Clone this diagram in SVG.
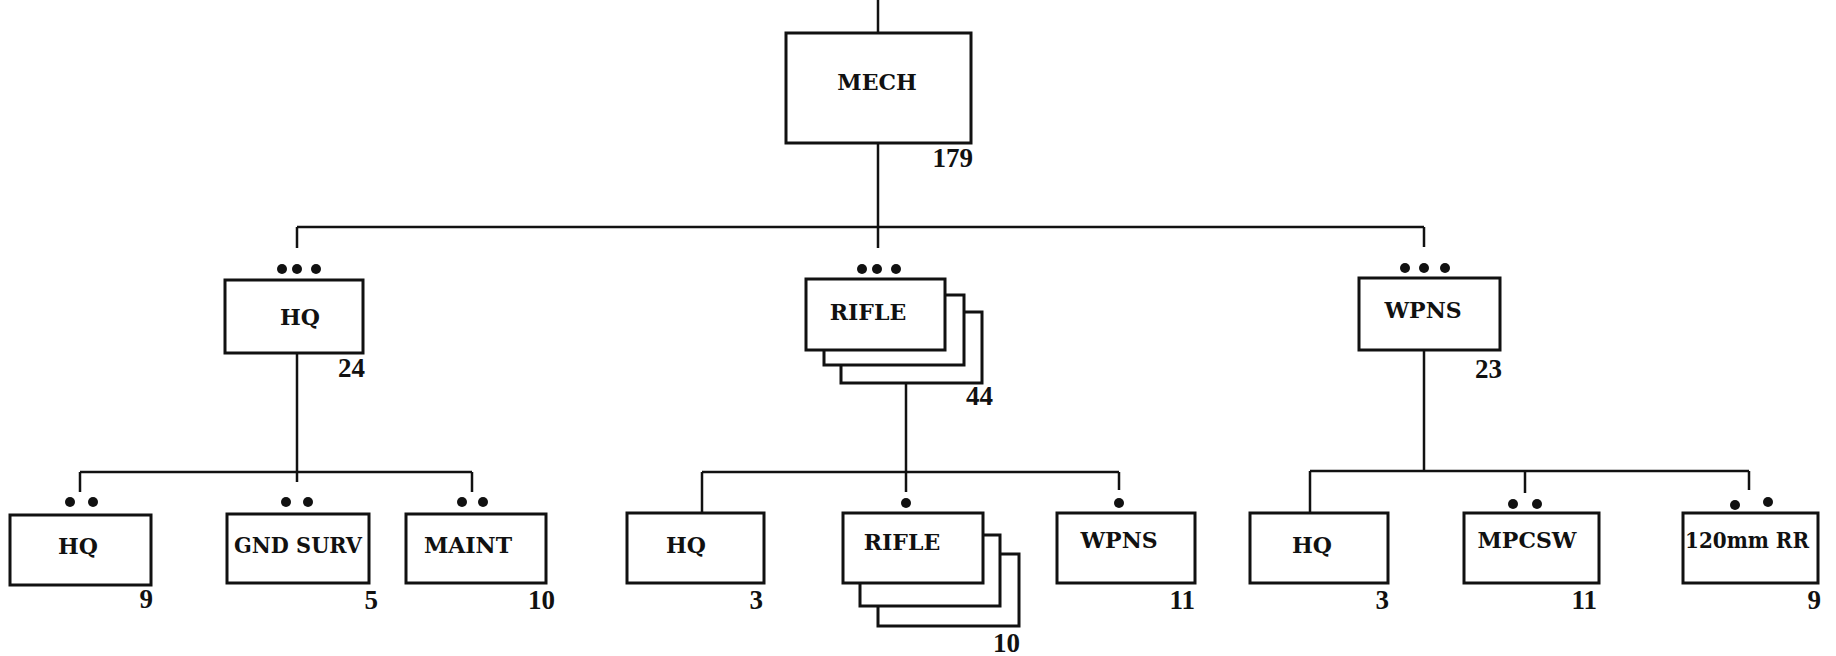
<svg xmlns="http://www.w3.org/2000/svg" width="1836" height="656" viewBox="0 0 1836 656">
<style>
.box{fill:#fff;stroke:#111;stroke-width:3}
.ln{fill:none;stroke:#111;stroke-width:2.5}
.lbl{font-family:"DejaVu Serif","Liberation Serif",serif;font-weight:bold;font-size:22px;fill:#111;text-anchor:middle}
.num{font-family:"Liberation Serif","Times New Roman",serif;font-weight:bold;font-size:27px;fill:#111;text-anchor:end}
.dot{fill:#111}
</style>
<rect width="1836" height="656" fill="#fff"/>
<g id="connectors">
<path class="ln" d="M878 0V33 M878 143V248 M297 227H1424 M297 227V248 M1424 227V247"/>
<path class="ln" d="M297 353V482 M80 472H472 M80 472V492 M472 472V492"/>
<path class="ln" d="M906 383V492 M702 472H1119 M702 472V513 M1119 472V490"/>
<path class="ln" d="M1424 350V471 M1310 471H1749 M1310 471V513 M1525 471V493 M1749 471V490"/>
</g>
<g id="mech">
<rect class="box" x="786" y="33" width="185" height="110"/>
<text class="lbl" x="877" y="90">MECH</text>
<text class="num" x="973" y="167">179</text>
</g>
<g id="hq-top">
<circle class="dot" cx="282" cy="269" r="5"/><circle class="dot" cx="297" cy="269" r="5"/><circle class="dot" cx="316" cy="269" r="5"/>
<rect class="box" x="225" y="280" width="138" height="73"/>
<text class="lbl" x="300" y="325">HQ</text>
<text class="num" x="365" y="377">24</text>
</g>
<g id="rifle-top">
<circle class="dot" cx="862" cy="269" r="5"/><circle class="dot" cx="877" cy="269" r="5"/><circle class="dot" cx="896" cy="269" r="5"/>
<rect class="box" x="841" y="312" width="141" height="71"/>
<rect class="box" x="824" y="295" width="140" height="70"/>
<rect class="box" x="806" y="279" width="139" height="71"/>
<text class="lbl" x="868" y="320">RIFLE</text>
<text class="num" x="993" y="405">44</text>
</g>
<g id="wpns-top">
<circle class="dot" cx="1405" cy="268" r="5"/><circle class="dot" cx="1424" cy="268" r="5"/><circle class="dot" cx="1445" cy="268" r="5"/>
<rect class="box" x="1359" y="278" width="141" height="72"/>
<text class="lbl" x="1423" y="318">WPNS</text>
<text class="num" x="1502" y="378">23</text>
</g>
<g id="hq-hq">
<circle class="dot" cx="70" cy="502" r="5"/><circle class="dot" cx="93" cy="502" r="5"/>
<rect class="box" x="10" y="515" width="141" height="70"/>
<text class="lbl" x="78" y="554">HQ</text>
<text class="num" x="153" y="608">9</text>
</g>
<g id="gnd-surv">
<circle class="dot" cx="286" cy="502" r="5"/><circle class="dot" cx="308" cy="502" r="5"/>
<rect class="box" x="227" y="514" width="142" height="69"/>
<text class="lbl" x="298" y="553" textLength="128" lengthAdjust="spacingAndGlyphs">GND SURV</text>
<text class="num" x="378" y="609">5</text>
</g>
<g id="maint">
<circle class="dot" cx="462" cy="502" r="5"/><circle class="dot" cx="483" cy="502" r="5"/>
<rect class="box" x="406" y="514" width="140" height="69"/>
<text class="lbl" x="468" y="553">MAINT</text>
<text class="num" x="555" y="609">10</text>
</g>
<g id="rifle-hq">
<rect class="box" x="627" y="513" width="137" height="70"/>
<text class="lbl" x="686" y="553">HQ</text>
<text class="num" x="763" y="609">3</text>
</g>
<g id="rifle-rifle">
<circle class="dot" cx="906" cy="503" r="5"/>
<rect class="box" x="878" y="554" width="141" height="72"/>
<rect class="box" x="860" y="535" width="140" height="71"/>
<rect class="box" x="843" y="513" width="140" height="70"/>
<text class="lbl" x="902" y="550">RIFLE</text>
<text class="num" x="1020" y="652">10</text>
</g>
<g id="rifle-wpns">
<circle class="dot" cx="1119" cy="503" r="5"/>
<rect class="box" x="1057" y="513" width="138" height="70"/>
<text class="lbl" x="1119" y="548">WPNS</text>
<text class="num" x="1195" y="609">11</text>
</g>
<g id="wpns-hq">
<rect class="box" x="1250" y="513" width="138" height="70"/>
<text class="lbl" x="1312" y="553">HQ</text>
<text class="num" x="1389" y="609">3</text>
</g>
<g id="mpcsw">
<circle class="dot" cx="1513" cy="504" r="5"/><circle class="dot" cx="1537" cy="504" r="5"/>
<rect class="box" x="1464" y="513" width="135" height="70"/>
<text class="lbl" x="1527" y="548">MPCSW</text>
<text class="num" x="1597" y="609">11</text>
</g>
<g id="rr120">
<circle class="dot" cx="1735" cy="505" r="5"/><circle class="dot" cx="1768" cy="502" r="5"/>
<rect class="box" x="1683" y="513" width="135" height="70"/>
<text class="lbl" x="1747" y="548" textLength="124" lengthAdjust="spacingAndGlyphs">120mm RR</text>
<text class="num" x="1821" y="609">9</text>
</g>
</svg>
